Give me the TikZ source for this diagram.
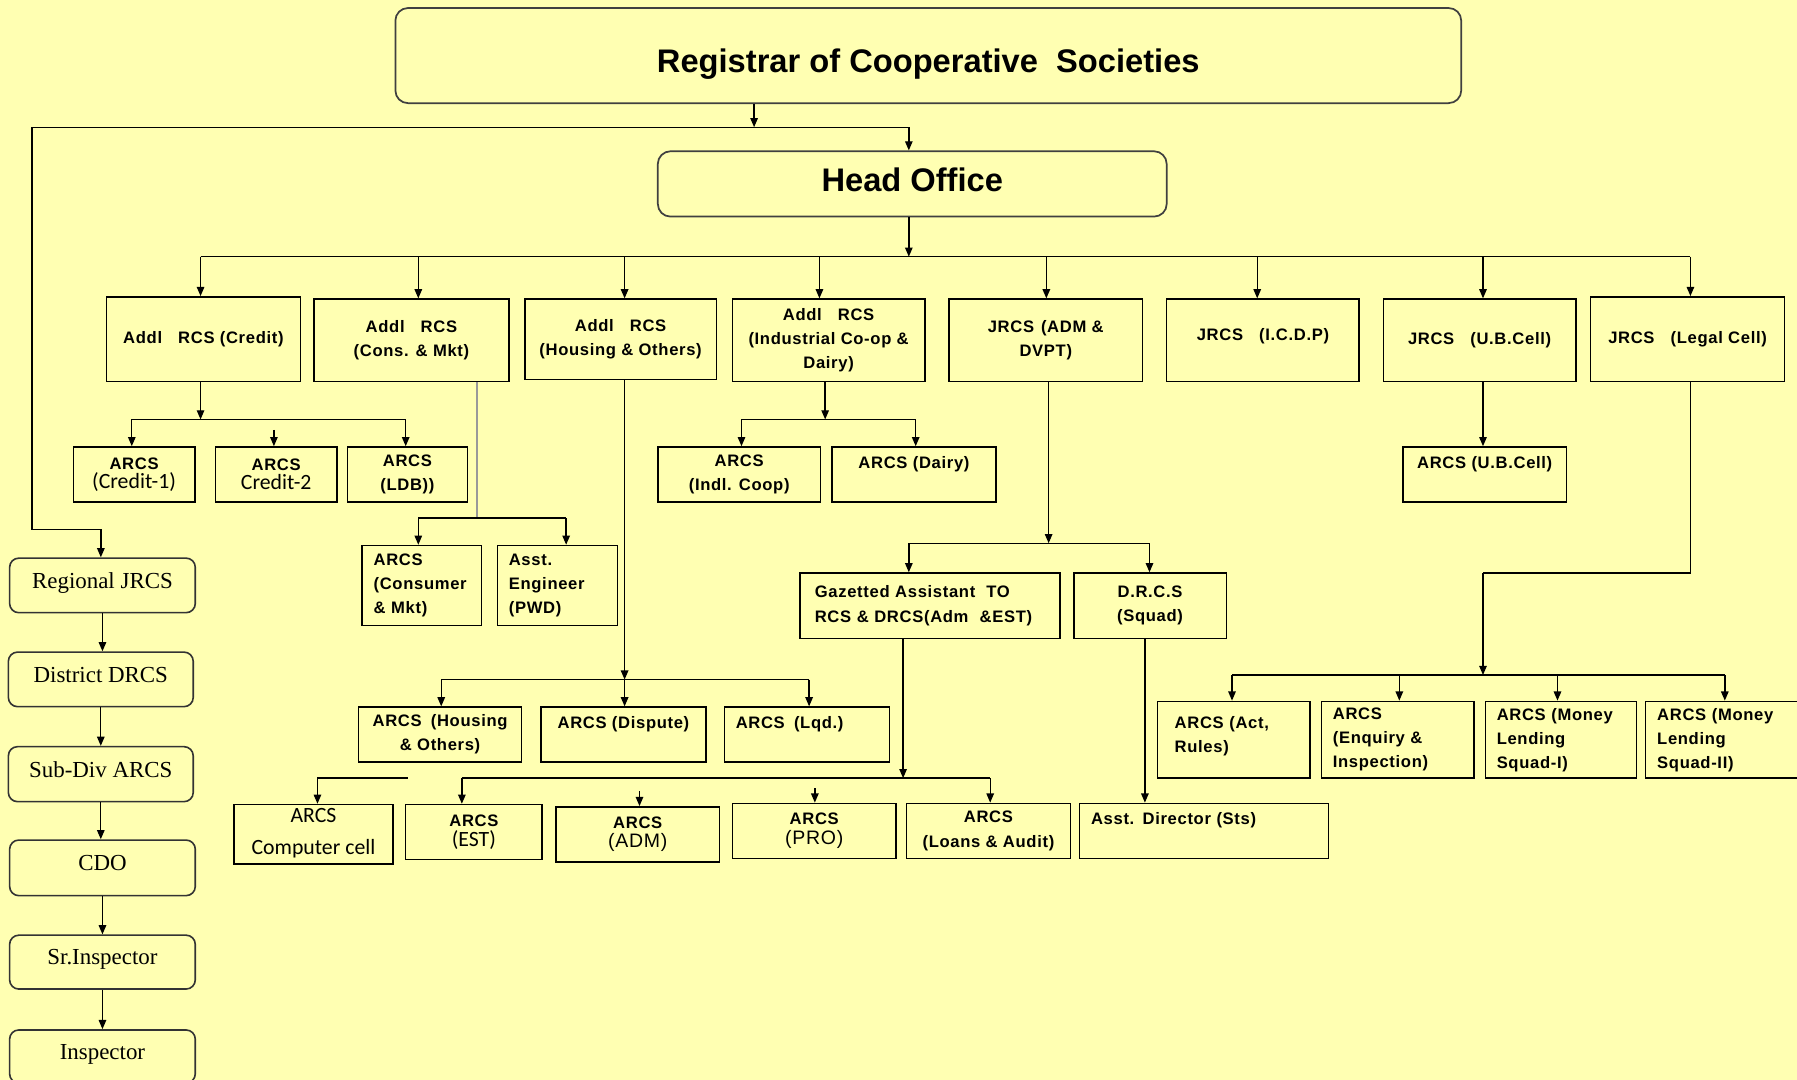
\documentclass[tikz,border=0pt]{standalone}
\usepackage{fontspec}
\setmainfont{Liberation Sans}
\newfontfamily\bxf{Liberation Sans}[LetterSpace=4]
\newfontfamily\tms{Liberation Serif}
\newfontfamily\carl{Carlito}
\usetikzlibrary{arrows.meta}
\definecolor{bg}{RGB}{255,255,178}
\tikzset{
 box/.style={draw=black, line width=1.3pt, rectangle, inner sep=2pt, align=center, font=\bxf\bfseries\fontsize{14.5}{21}\selectfont},
 lbox/.style={box, align=left, inner xsep=10pt},
 rbox/.style={draw=black!80, line width=1.4pt, rounded corners=8pt, font=\tms\fontsize{20}{24}\selectfont, text height=14pt, text depth=9pt},
 tbox/.style={draw=black!75, line width=1.5pt, rounded corners=11pt, font=\bfseries\fontsize{28.5}{32}\selectfont},
 arr/.style={line width=1.2pt, -{Triangle[length=8pt,width=6.5pt]}},
 ln/.style={line width=1.2pt},
 gln/.style={line width=2pt, draw=black!40},
}
\newcommand\bx[7][]{\node[box,minimum width={#5-#3},minimum height={#6-#4},#1] (#2) at ({(#3+#5)/2},{(#4+#6)/2}) {#7};}
\newcommand\clb[1]{{\carl\mdseries\fontsize{19}{22}\selectfont #1}}
\newcommand\rgl[1]{{\mdseries\fontsize{17}{20}\selectfont #1}}
\newcommand\dn[3]{\coordinate (tmp) at (#1,#2); \draw[arr] (tmp) -- (tmp |- #3.north);}
\begin{document}
\begin{tikzpicture}[x=1pt,y=-1pt]
\fill[bg] (0,0) rectangle (1568,942);
\useasboundingbox (0,0) rectangle (1568,942);

% titles
\bx[tbox,text height=35pt,text depth=6pt]{reg}{345}{7}{1275}{90}{Registrar of Cooperative\ \ Societies}
\bx[tbox,text height=21pt,text depth=8pt]{ho}{574}{132}{1018}{189}{Head Office}

% row 1
\bx{a1}{93}{259}{262}{333}{Addl\hspace{14pt}RCS (Credit)}
\bx{a2}{274}{261}{444}{333}{Addl\hspace{14pt}RCS\\(Cons. \& Mkt)}
\bx{a3}{458}{261}{625}{331}{Addl\hspace{14pt}RCS\\(Housing \& Others)}
\bx{a4}{639}{261}{807}{333}{Addl\hspace{14pt}RCS\\(Industrial Co-op \&\\Dairy)}
\bx{j1}{828}{261}{997}{333}{JRCS\hspace{6pt}(ADM \&\\DVPT)}
\bx[text depth=10pt]{j2}{1018}{261}{1186}{333}{JRCS\hspace{14pt}(I.C.D.P)}
\bx{j3}{1207}{261}{1375}{333}{JRCS\hspace{14pt}(U.B.Cell)}
\bx{j4}{1388}{259}{1557}{333}{JRCS\hspace{14pt}(Legal Cell)}

% row 2
\bx{c1}{64}{390}{170}{438}{ARCS\\[-4pt]\clb{(Credit-1)}}
\bx{c2}{188}{390}{294}{438}{ARCS\\[-4pt]\clb{Credit-2}}
\bx{c3}{303}{390}{408}{438}{ARCS\\(LDB))}
\bx{i1}{574}{390}{716}{438}{ARCS\\(Indl. Coop)}
\bx{i2}{726}{390}{869}{438}{ARCS (Dairy)\\\mbox{}}
\bx{u1}{1224}{390}{1367}{438}{ARCS (U.B.Cell)\\\mbox{}}

% consumer / engineer
\bx[lbox,text width=84pt]{k1}{316}{476}{420}{546}{ARCS\\(Consumer\\\& Mkt)}
\bx[lbox,text width=85pt]{k2}{434}{476}{539}{546}{Asst.\\Engineer\\(PWD)}

% gazetted / drcs
\bx[lbox,inner xsep=13pt,text width=201pt]{g1}{698}{500}{925}{557}{Gazetted Assistant\ \ TO\\RCS \& DRCS(Adm\ \ \&EST)}
\bx{g2}{937}{500}{1070}{557}{D.R.C.S\\(Squad)}

% housing row
\bx{h1}{313}{617}{455}{665}{ARCS\hspace{8pt}(Housing\\\& Others)}
\bx{h2}{472}{617}{616}{665}{ARCS (Dispute)\\\mbox{}}
\bx[lbox,text width=124pt]{h3}{632}{617}{776}{665}{ARCS\hspace{8pt}(Lqd.)\\\mbox{}}

% bottom row
\bx{m1}{204}{702}{343}{754}{\mbox{}\\[-10pt]\clb{ARCS}\\[7pt]\clb{Computer cell}}
\bx{m2}{354}{702}{473}{750}{ARCS\\[-3pt]\clb{(EST)}}
\bx{m3}{485}{704}{628}{752}{ARCS\\[-4pt]\rgl{(ADM)}}
\bx{m4}{639}{701}{782}{749}{ARCS\\[-4pt]\rgl{(PRO)}}
\bx{m5}{791}{701}{934}{749}{ARCS\\(Loans \& Audit)}
\bx[lbox,text width=197pt]{m6}{942}{701}{1159}{749}{Asst. Director (Sts)\\\mbox{}}

% legal row
\bx[lbox,inner xsep=15pt,text width=103pt]{l1}{1010}{612}{1143}{679}{ARCS (Act,\\Rules)\\[-12pt]\mbox{}}
\bx[lbox,text width=113pt]{l2}{1153}{612}{1286}{679}{ARCS\\(Enquiry \&\\Inspection)}
\bx[lbox,text width=112pt]{l3}{1296}{612}{1428}{679}{ARCS (Money\\Lending\\Squad-I)}
\bx[lbox,text width=124pt]{l4}{1436}{612}{1580}{679}{ARCS (Money\\Lending\\Squad-II)}

% left column
\bx[rbox]{rj}{8.4}{487}{170.4}{534.6}{Regional JRCS}
\bx[rbox]{dd}{7.3}{569}{168.6}{616.6}{District DRCS}
\bx[rbox]{sd}{7.3}{651.5}{168.6}{699.5}{Sub-Div ARCS}
\bx[rbox]{cd}{8.4}{733}{170.4}{781.5}{CDO}
\bx[rbox]{si}{8.4}{816}{170.4}{863}{Sr.Inspector}
\bx[rbox]{insp}{8.4}{898.7}{170.4}{945}{Inspector}

% registrar -> head office, regional
\coordinate (r1) at (658,111);
\coordinate (t0) at (28,111);
\coordinate (t1) at (793,111);
\coordinate (t2) at (28,462);
\coordinate (t3) at (88,462);
\draw[arr] (reg.south -| r1) -- (r1);
\draw[ln] (t0) -- (t1);
\draw[arr] (t1) -- (ho.north -| t1);
\draw[arr] (t0) -- (t2) -- (t3) -- (rj.north -| t3);

% head office bus
\coordinate (b0) at (793,224);
\coordinate (bl) at (175,224);
\coordinate (br) at (1475,224);
\draw[arr] (ho.south -| b0) -- (b0);
\draw[ln] (bl) -- (br);
\foreach \x/\n in {175/a1,365/a2,545/a3,715/a4,913/j1,1097/j2,1294/j3,1475/j4}{
  \coordinate (p) at (\x,224); \draw[arr] (p) -- (p |- \n.north);}

% credit
\coordinate (c0) at (175,366);
\coordinate (cl) at (115,366);
\coordinate (cr) at (354,366);
\draw[arr] (a1.south -| c0) -- (c0);
\draw[ln] (cl) -- (cr);
\dn{115}{366}{c1}
\dn{239}{375}{c2}
\dn{354}{366}{c3}

% cons & mkt
\coordinate (q0) at (416,452);
\coordinate (ql) at (365,452);
\coordinate (qr) at (494,452);
\draw[gln] (a2.south -| q0) -- (q0);
\draw[ln] (ql) -- (qr);
\dn{365}{452}{k1}
\dn{494}{452}{k2}

% housing
\coordinate (hq) at (545,593);
\coordinate (hl) at (385,593);
\coordinate (hr) at (706,593);
\draw[arr] (a3.south -| hq) -- (hq);
\draw[ln] (hl) -- (hr);
\dn{385}{593}{h1}
\dn{545}{593}{h2}
\dn{706}{593}{h3}

% industrial
\coordinate (iq) at (720,366);
\coordinate (il) at (647,366);
\coordinate (ir) at (799,366);
\draw[arr] (a4.south -| iq) -- (iq);
\draw[ln] (il) -- (ir);
\dn{647}{366}{i1}
\dn{799}{366}{i2}

% jrcs adm
\coordinate (jq) at (915,474);
\coordinate (jl) at (793,474);
\coordinate (jr) at (1003,474);
\draw[arr] (j1.south -| jq) -- (jq);
\draw[ln] (jl) -- (jr);
\dn{793}{474}{g1}
\dn{1003}{474}{g2}

% gazetted
\coordinate (gq) at (788,679);
\coordinate (gl) at (403,679);
\coordinate (gr) at (864,679);
\draw[arr] (g1.south -| gq) -- (gq);
\draw[ln] (gl) -- (gr);
\dn{403}{679}{m2}
\dn{558}{690}{m3}
\dn{711}{688}{m4}
\dn{864}{679}{m5}
\coordinate (el) at (277,679);
\coordinate (er) at (356,679);
\draw[ln] (er) -- (el);
\dn{277}{679}{m1}

% drcs
\coordinate (dq) at (999,600);
\draw[arr] (g2.south -| dq) -- (m6.north -| dq);

% ub cell
\coordinate (uq) at (1294,360);
\draw[arr] (j3.south -| uq) -- (u1.north -| uq);

% legal
\coordinate (lq1) at (1475,500);
\coordinate (lq2) at (1294,500);
\coordinate (lq3) at (1294,589);
\coordinate (ll) at (1075,589);
\coordinate (lr) at (1505,589);
\draw[ln] (j4.south -| lq1) -- (lq1) -- (lq2);
\draw[arr] (lq2) -- (lq3);
\draw[ln] (ll) -- (lr);
\dn{1075}{589}{l1}
\dn{1221}{589}{l2}
\dn{1359}{589}{l3}
\dn{1505}{589}{l4}

% left column
\draw[arr] (rj.south) -- (rj.south |- dd.north);
\draw[arr] (dd.south) -- (dd.south |- sd.north);
\draw[arr] (sd.south) -- (sd.south |- cd.north);
\draw[arr] (cd.south) -- (cd.south |- si.north);
\draw[arr] (si.south) -- (si.south |- insp.north);
\end{tikzpicture}
\end{document}
